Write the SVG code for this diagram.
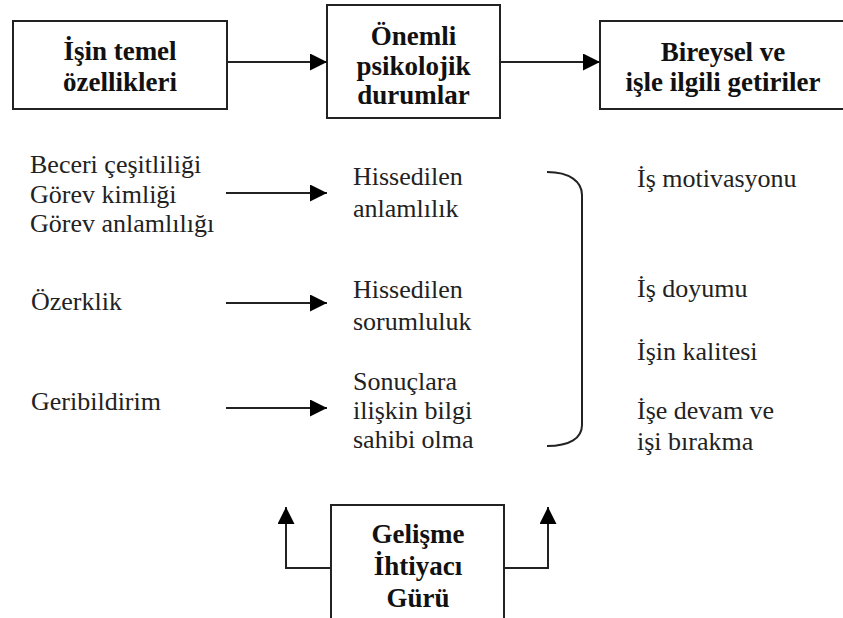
<svg xmlns="http://www.w3.org/2000/svg" width="843" height="618" viewBox="0 0 843 618">
<defs>
<marker id="ah" viewBox="0 0 17 17" refX="17" refY="8.5" markerWidth="17" markerHeight="17" markerUnits="userSpaceOnUse" orient="auto"><path d="M0,0 L17,8.5 L0,17 Z" fill="#000"/></marker>
<style>
.box{fill:#fff;stroke:#222;stroke-width:2}
.b{font-family:"Liberation Serif","Times New Roman",serif;font-weight:bold;font-size:27px;fill:#111;text-anchor:middle}
.t{font-family:"Liberation Serif","Times New Roman",serif;font-size:26px;fill:#222}
.c{fill:none;stroke:#222;stroke-width:2}
</style>
</defs>
<rect width="843" height="618" fill="#fff"/>
<g id="n-isin">
<rect class="box" x="13" y="21" width="214" height="88"/>
<text class="b" x="120" y="60">İşin temel</text>
<text class="b" x="120" y="91">özellikleri</text>
</g>
<g id="n-onemli">
<rect class="box" x="327" y="5" width="173" height="113"/>
<text class="b" x="413.5" y="45">Önemli</text>
<text class="b" x="413.5" y="75">psikolojik</text>
<text class="b" x="413.5" y="104">durumlar</text>
</g>
<g id="n-bireysel">
<rect class="box" x="600" y="21" width="260" height="88"/>
<text class="b" x="723" y="61">Bireysel ve</text>
<text class="b" x="723" y="91">işle ilgili getiriler</text>
</g>
<g id="n-gelisme">
<rect class="box" x="331" y="505" width="173" height="130"/>
<text class="b" x="418" y="543">Gelişme</text>
<text class="b" x="418" y="575">İhtiyacı</text>
<text class="b" x="418" y="607">Gürü</text>
</g>
<g id="n-left">
<text class="t" x="30" y="173">Beceri çeşitliliği</text>
<text class="t" x="30" y="203">Görev kimliği</text>
<text class="t" x="30" y="232">Görev anlamlılığı</text>
<text class="t" x="31" y="310">Özerklik</text>
<text class="t" x="31" y="410">Geribildirim</text>
</g>
<g id="n-middle">
<text class="t" x="353" y="185">Hissedilen</text>
<text class="t" x="353" y="217">anlamlılık</text>
<text class="t" x="353" y="298">Hissedilen</text>
<text class="t" x="353" y="330">sorumluluk</text>
<text class="t" x="353" y="390">Sonuçlara</text>
<text class="t" x="353" y="419">ilişkin bilgi</text>
<text class="t" x="353" y="448">sahibi olma</text>
</g>
<g id="n-right">
<text class="t" x="637" y="187">İş motivasyonu</text>
<text class="t" x="637" y="297">İş doyumu</text>
<text class="t" x="637" y="360">İşin kalitesi</text>
<text class="t" x="637" y="419">İşe devam ve</text>
<text class="t" x="637" y="450">işi bırakma</text>
</g>
<g id="connectors">
<line class="c" x1="227" y1="62" x2="327" y2="62" marker-end="url(#ah)"/>
<line class="c" x1="500" y1="62" x2="600" y2="62" marker-end="url(#ah)"/>
<line class="c" x1="226" y1="193" x2="327" y2="193" marker-end="url(#ah)"/>
<line class="c" x1="226" y1="303" x2="327" y2="303" marker-end="url(#ah)"/>
<line class="c" x1="226" y1="408" x2="327" y2="408" marker-end="url(#ah)"/>
<path class="c" d="M547,172 C570,172 582,182 582,195 L582,425 C582,438 570,446 547,446" stroke="#444"/>
<path class="c" d="M331,568 L286,568 L286,507" marker-end="url(#ah)"/>
<path class="c" d="M504,568 L548,568 L548,507" marker-end="url(#ah)"/>
</g>
</svg>
